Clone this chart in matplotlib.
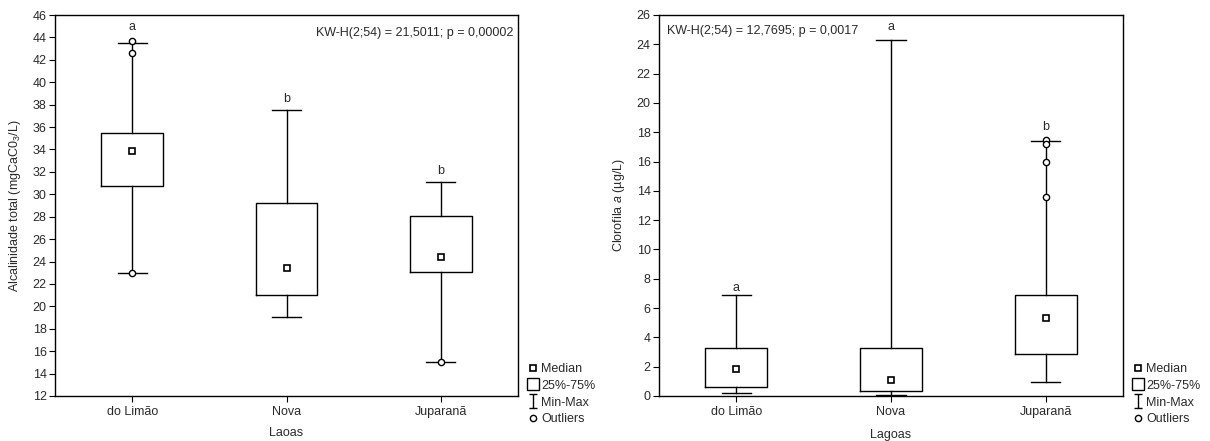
import matplotlib
matplotlib.use("Agg")
import matplotlib.pyplot as plt
from matplotlib.lines import Line2D
from matplotlib.path import Path

plt.rcParams['font.family'] = ['Liberation Sans', 'DejaVu Sans']
plt.rcParams['font.size'] = 9
plt.rcParams['mathtext.fontset'] = 'custom'
plt.rcParams['mathtext.rm'] = 'Liberation Sans'
plt.rcParams['mathtext.it'] = 'Liberation Sans:italic'

lagoas = ['do Limão', 'Nova', 'Juparanã']

# alcalinidade total
alc_min = [23.0, 19.05, 15.05]
alc_q1 = [30.7, 21.0, 23.1]
alc_med = [33.85, 23.4, 24.4]
alc_q3 = [35.45, 29.25, 28.1]
alc_max = [43.5, 37.5, 31.1]
alc_out = [[43.65, 42.6, 23.0], [], [15.05]]
alc_letras = ['a', 'b', 'b']
alc_letras_y = [44.93, 38.5, 32.07]

# clorofila a
clo_min = [0.2, 0.08, 0.93]
clo_q1 = [0.6, 0.35, 2.86]
clo_med = [1.85, 1.1, 5.3]
clo_q3 = [3.25, 3.25, 6.87]
clo_max = [6.9, 24.27, 17.4]
clo_out = [[], [], [17.5, 17.2, 16.0, 13.6]]
clo_letras = ['a', 'a', 'b']
clo_letras_y = [7.37, 25.18, 18.35]

txtcol = '#2a2a2a'

fig = plt.figure(figsize=(12.1, 4.41), dpi=100)
ax1 = fig.add_axes([55/1210, 45/441, 463/1210, 381/441])
ax2 = fig.add_axes([659/1210, 45/441, 464/1210, 381/441])

# I-beam marker for the legend
ibeam = Path([(-0.5, 1), (0.5, 1), (0, 1), (0, -1), (-0.5, -1), (0.5, -1)],
             [Path.MOVETO, Path.LINETO, Path.MOVETO, Path.LINETO, Path.MOVETO, Path.LINETO])


def caixas(ax, mn, q1, med, q3, mx, out, letras, letras_y):
    stats = []
    for i in range(len(lagoas)):
        stats.append(dict(label=lagoas[i], whislo=mn[i], q1=q1[i], med=med[i],
                          q3=q3[i], whishi=mx[i], mean=med[i], fliers=out[i]))
    ax.bxp(stats, positions=[1, 2, 3], widths=0.4, capwidths=0.19,
           showmeans=True, showfliers=True,
           boxprops=dict(color='black', lw=1.0),
           whiskerprops=dict(color='black', lw=1.0),
           capprops=dict(color='black', lw=1.0),
           medianprops=dict(lw=0),
           meanprops=dict(marker='s', markersize=4.5, markerfacecolor='white',
                          markeredgecolor='black', markeredgewidth=1.2),
           flierprops=dict(marker='o', markersize=4.5, markerfacecolor='white',
                           markeredgecolor='black', markeredgewidth=1.0, zorder=5))
    for i in range(len(lagoas)):
        ax.text(i + 1, letras_y[i], letras[i], ha='center', va='center', color=txtcol)
    ax.set_xlim(0.5, 3.5)
    ax.tick_params(direction='out', length=4, width=0.8, pad=3, colors='black', labelcolor=txtcol)
    ax.tick_params(axis='y', pad=2)
    for s in ax.spines.values():
        s.set_linewidth(1.0)
    handles = [
        Line2D([], [], ls='none', marker='s', markersize=4.5, markerfacecolor='white',
               markeredgecolor='black', markeredgewidth=1.2),
        Line2D([], [], ls='none', marker='s', markersize=8.5, markerfacecolor='white',
               markeredgecolor='black', markeredgewidth=1.0),
        Line2D([], [], ls='none', marker=ibeam, markersize=10.5, markeredgecolor='black',
               markeredgewidth=1.0),
        Line2D([], [], ls='none', marker='o', markersize=4.5, markerfacecolor='white',
               markeredgecolor='black', markeredgewidth=1.0),
    ]
    leg = ax.legend(handles, ['Median', '25%-75%', 'Min-Max', 'Outliers'],
                    loc='lower left', bbox_to_anchor=(1.021, -0.077), frameon=False,
                    handlelength=0.8, handletextpad=0.3, labelspacing=0.38,
                    borderpad=0, borderaxespad=0, fontsize=9)
    for t in leg.get_texts():
        t.set_color(txtcol)


caixas(ax1, alc_min, alc_q1, alc_med, alc_q3, alc_max, alc_out, alc_letras, alc_letras_y)
ax1.set_ylim(12, 46)
ax1.set_yticks(range(12, 47, 2))
ax1.set_ylabel('Alcalinidade total (mgCaC0$_3$/L)', color=txtcol)
ax1.yaxis.set_label_coords(-0.07, 0.5)
ax1.set_xlabel('Laoas', color=txtcol)
ax1.xaxis.set_label_coords(0.5, -0.082)
ax1.text(0.989, 0.953, 'KW-H(2;54) = 21,5011; p = 0,00002', transform=ax1.transAxes,
         ha='right', va='center', color=txtcol)

caixas(ax2, clo_min, clo_q1, clo_med, clo_q3, clo_max, clo_out, clo_letras, clo_letras_y)
ax2.set_ylim(0, 26)
ax2.set_yticks(range(0, 27, 2))
ax2.set_ylabel('Clorofila $a$ (µg/L)', color=txtcol)
ax2.yaxis.set_label_coords(-0.07, 0.5)
ax2.set_xlabel('Lagoas', color=txtcol)
ax2.xaxis.set_label_coords(0.5, -0.087)
ax2.text(0.017, 0.958, 'KW-H(2;54) = 12,7695; p = 0,0017', transform=ax2.transAxes,
         ha='left', va='center', color=txtcol)

fig.savefig('out.png', dpi=100)
